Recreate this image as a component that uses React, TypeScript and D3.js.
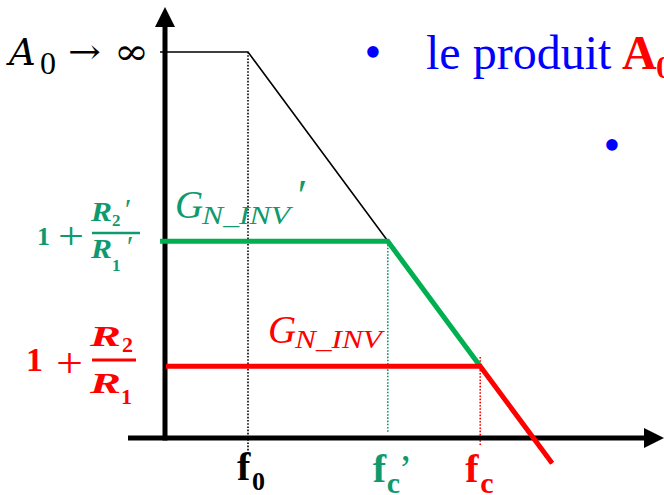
import React from "react";
import * as d3 from "d3";

// ---- data (frequency in Hz on a log axis, gain in dB) ----
const kneeNames = ["f0", "fc'", "fc"];
const kneeFreqs = [10, 250, 2100];
const plateauGains = [100, 72.1, 53.7]; // A0, G'N_INV, GN_INV
const openLoopFreqs = [1.32, 10, 11000];
const openLoopGains = [100, 100, 39.4];
const greenStartFreq = 1.32;
const redStartFreq = 1.51;
const axisDomainF = [1, 1e5];
const axisDomainG = [43.12, 100];

const W = 664;
const H = 495;

const TEAL = "#0e9a6e";
const GREEN = "#00b050";
const RED = "#ff0000";
const BLUE = "#0000ff";
const MATH = "'Liberation Serif', 'Times New Roman', serif";
const SYM = "'DejaVu Serif', serif";
const TIMES = "'Liberation Serif', 'Times New Roman', serif";

export default function App() {
  const x = d3.scaleLog().domain(axisDomainF).range([148, 648]);
  const y = d3.scaleLinear().domain(axisDomainG).range([438, 52]);

  const line = d3
    .line<[number, number]>()
    .x((d) => x(d[0]))
    .y((d) => y(d[1]));

  const openLoop: [number, number][] = openLoopFreqs.map((f, i) => [f, openLoopGains[i]]);
  const green: [number, number][] = [
    [greenStartFreq, plateauGains[1]],
    [kneeFreqs[1], plateauGains[1]],
    [kneeFreqs[2], plateauGains[2]],
  ];
  const red: [number, number][] = [
    [redStartFreq, plateauGains[2]],
    [kneeFreqs[2], plateauGains[2]],
    [openLoopFreqs[2], openLoopGains[2]],
  ];

  const axisX = 165;
  const axisY = 438;

  return (
    <svg
      width={W}
      height={H}
      viewBox={`0 0 ${W} ${H}`}
      style={{ position: "absolute", left: 0, top: 0, background: "#fff" }}
    >
      <rect x={0} y={0} width={W} height={H} fill="#fff" />

      {/* dotted guides */}
      <line x1={x(kneeFreqs[0])} x2={x(kneeFreqs[0])} y1={y(plateauGains[0])} y2={455}
        stroke="#000" strokeWidth={1.6} strokeDasharray="1.6,1.6" />
      <line x1={x(kneeFreqs[1])} x2={x(kneeFreqs[1])} y1={y(plateauGains[1])} y2={432}
        stroke={TEAL} strokeWidth={1.6} strokeDasharray="1.6,1.6" />
      <line x1={x(kneeFreqs[2])} x2={x(kneeFreqs[2])} y1={357} y2={446}
        stroke={RED} strokeWidth={1.6} strokeDasharray="1.6,1.6" />

      {/* axes */}
      <line x1={axisX} x2={axisX} y1={26} y2={axisY + 2.5} stroke="#000" strokeWidth={5} />
      <polygon points={`${axisX - 10},27 ${axisX + 10},27 ${axisX},7`} fill="#000" />
      <line x1={128} x2={645} y1={axisY} y2={axisY} stroke="#000" strokeWidth={5} />
      <polygon points={`644,${axisY - 10} 644,${axisY + 10} 664,${axisY}`} fill="#000" />

      {/* curves */}
      <path d={line(openLoop) || ""} fill="none" stroke="#000" strokeWidth={1.6} />
      <path d={line(green) || ""} fill="none" stroke={GREEN} strokeWidth={5} />
      <path d={line(red) || ""} fill="none" stroke={RED} strokeWidth={5} />

      {/* A0 -> infinity */}
      <text x={9} y={65} fontFamily={SYM} fontSize={37} fontStyle="italic" fill="#000">A</text>
      <text x={40} y={74} fontFamily={MATH} fontSize={32} fill="#000">0</text>
      <text x={68} y={63} fontFamily={SYM} fontSize={34} fill="#000"
        textLength={33} lengthAdjust="spacingAndGlyphs">→</text>
      <text x={114} y={64} fontFamily={SYM} fontSize={36} fill="#000"
        textLength={35} lengthAdjust="spacingAndGlyphs">∞</text>

      {/* G'N_INV label */}
      <text x={175} y={218} fontFamily={MATH} fontSize={39} fontStyle="italic" fill={TEAL}>G</text>
      <text x={202} y={224} fontFamily={MATH} fontSize={26} fontStyle="italic" fill={TEAL}
        textLength={88} lengthAdjust="spacingAndGlyphs">N_INV</text>
      <text x={295} y={210} fontFamily={MATH} fontSize={44} fontStyle="italic" fill={TEAL}>′</text>

      {/* GN_INV label */}
      <text x={268} y={343} fontFamily={MATH} fontSize={39} fontStyle="italic" fill={RED}>G</text>
      <text x={295} y={348} fontFamily={MATH} fontSize={26} fontStyle="italic" fill={RED}
        textLength={87} lengthAdjust="spacingAndGlyphs">N_INV</text>

      {/* 1 + R2'/R1' */}
      <g fill={TEAL} fontFamily={MATH} fontWeight="bold">
        <text x={37} y={245} fontSize={26}>1</text>
        <text x={58} y={249} fontSize={38} fontWeight="normal"
          textLength={26} lengthAdjust="spacingAndGlyphs">+</text>
        <line x1={92} x2={140} y1={233} y2={233} stroke={TEAL} strokeWidth={2.5} />
        <text x={91} y={221} fontSize={28} fontStyle="italic"
          textLength={21} lengthAdjust="spacingAndGlyphs">R</text>
        <text x={112} y={226} fontSize={17}>2</text>
        <text x={123} y={219} fontSize={30} fontStyle="italic" fontWeight="normal">′</text>
        <text x={91} y={258} fontSize={28} fontStyle="italic"
          textLength={21} lengthAdjust="spacingAndGlyphs">R</text>
        <text x={112} y={271} fontSize={17}>1</text>
        <text x={125} y={256} fontSize={30} fontStyle="italic" fontWeight="normal">′</text>
      </g>

      {/* 1 + R2/R1 */}
      <g fill={RED} fontFamily={MATH} fontWeight="bold">
        <text x={26} y={371} fontSize={34}>1</text>
        <text x={56} y={377} fontSize={42} fontWeight="normal"
          textLength={27} lengthAdjust="spacingAndGlyphs">+</text>
        <line x1={92} x2={136} y1={360} y2={360} stroke={RED} strokeWidth={3} />
        <text x={90} y={346} fontSize={30} fontStyle="italic"
          textLength={31} lengthAdjust="spacingAndGlyphs">R</text>
        <text x={122} y={352} fontSize={22}>2</text>
        <text x={90} y={393} fontSize={30} fontStyle="italic"
          textLength={31} lengthAdjust="spacingAndGlyphs">R</text>
        <text x={121} y={404} fontSize={22}>1</text>
      </g>

      {/* frequency labels */}
      <g fontFamily={TIMES} fontWeight="bold">
        <text x={x(kneeFreqs[0]) - 11} y={480} fontSize={40} fill="#000">f</text>
        <text x={x(kneeFreqs[0]) + 4} y={490} fontSize={26} fill="#000">0</text>

        <text x={x(kneeFreqs[1]) - 15} y={482} fontSize={40} fill={TEAL}>f</text>
        <text x={x(kneeFreqs[1]) - 1} y={493} fontSize={30} fill={TEAL}>c</text>
        <text x={x(kneeFreqs[1]) + 11} y={482} fontSize={40} fill={TEAL} fontWeight="normal">’</text>

        <text x={x(kneeFreqs[2]) - 15} y={482} fontSize={40} fill={RED}>f</text>
        <text x={x(kneeFreqs[2])} y={493} fontSize={30} fill={RED}>c</text>
      </g>

      {/* bullet text */}
      <text x={373} y={68} fontFamily={TIMES} fontSize={48} fill={BLUE} textAnchor="middle">•</text>
      <text x={426} y={69} fontFamily={TIMES} fontSize={48} fill={BLUE}>le produit</text>
      <text x={622} y={69} fontFamily={TIMES} fontSize={48} fill={RED} fontWeight="bold">A</text>
      <text x={656} y={78} fontFamily={TIMES} fontSize={32} fill={RED} fontWeight="bold">0</text>
      <text x={612} y={161} fontFamily={TIMES} fontSize={48} fill={BLUE} textAnchor="middle">•</text>
    </svg>
  );
}
